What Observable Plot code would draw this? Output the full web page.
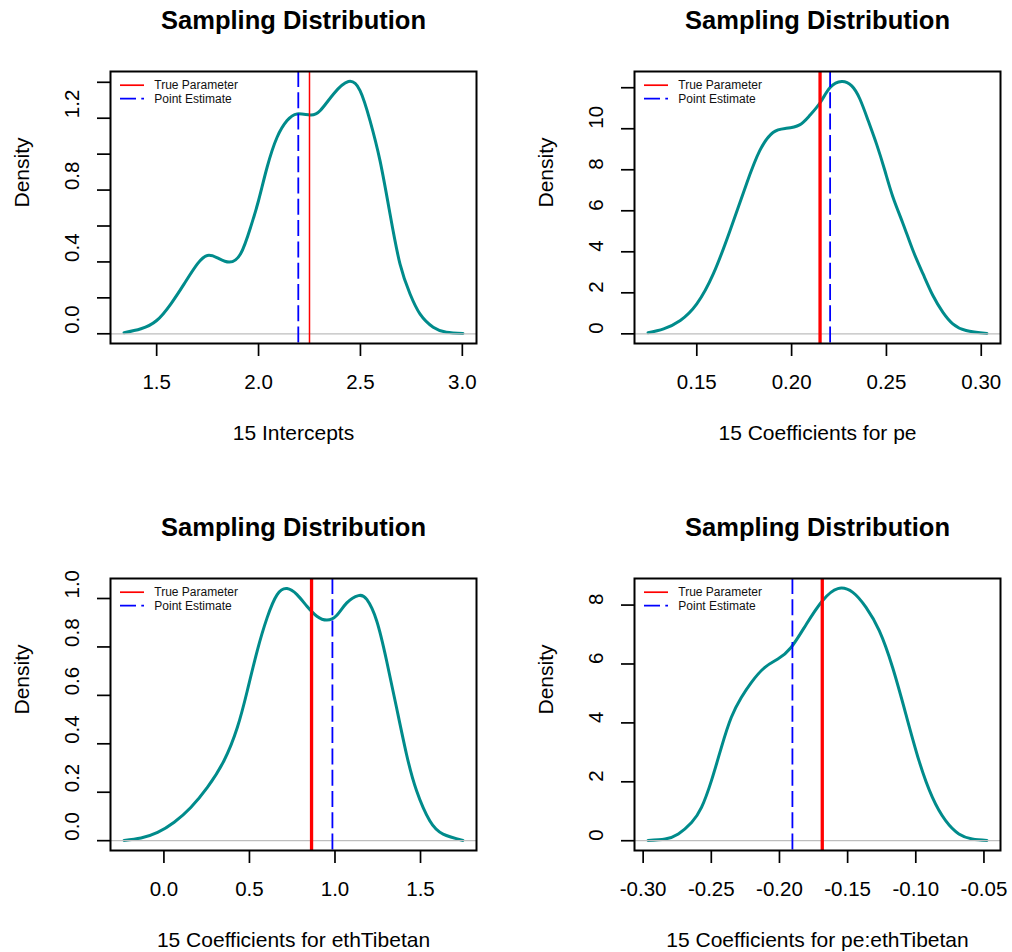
<!DOCTYPE html>
<html>
<head>
<meta charset="utf-8">
<script src="https://cdn.jsdelivr.net/npm/d3@7"></script>
<script src="https://cdn.jsdelivr.net/npm/@observablehq/plot@0.6"></script>
<style>
  html, body { margin: 0; padding: 0; background: #fff; }
  #chart { position: relative; width: 1012px; height: 952px; overflow: hidden; background: #fff;
           font-family: "Liberation Sans", Arial, Helvetica, sans-serif; }
  #chart svg { position: absolute; }
</style>
</head>
<body>
<div id="chart"></div>
<script>
// ---------- data ----------
const chartTitle = "Sampling Distribution";
const yTitle = "Density";
const legendLabels = ["True Parameter", "Point Estimate"];

// Panel 1: intercepts
const p1XTitle = "15 Intercepts";
const p1X = [1.340, 1.423, 1.500, 1.570, 1.635, 1.700, 1.749, 1.798, 1.855, 1.912, 1.961, 2.000, 2.042, 2.091, 2.140, 2.189, 2.254, 2.303, 2.368, 2.441, 2.498, 2.547, 2.596, 2.645, 2.694, 2.743, 2.792, 2.857, 2.922, 3.003];
const p1Y = [0.006, 0.028, 0.074, 0.167, 0.278, 0.389, 0.436, 0.423, 0.399, 0.445, 0.593, 0.742, 0.927, 1.094, 1.187, 1.224, 1.218, 1.243, 1.335, 1.404, 1.354, 1.187, 0.964, 0.668, 0.389, 0.223, 0.111, 0.037, 0.009, 0.002];
const p1Truth = 2.25;
const p1Estimate = 2.195;
const p1XTicks = [1.5, 2.0, 2.5, 3.0];
const p1XTickLabels = ["1.5", "2.0", "2.5", "3.0"];
const p1YTicks = [0, 0.2, 0.4, 0.6, 0.8, 1.0, 1.2, 1.4];
const p1YLabelTicks = [0, 0.4, 0.8, 1.2];
const p1YTickLabels = ["0.0", "0.4", "0.8", "1.2"];

// Panel 2: coefficients for pe
const p2XTitle = "15 Coefficients for pe";
const p2X = [0.1243, 0.1325, 0.1413, 0.1500, 0.1587, 0.1675, 0.1762, 0.1832, 0.1902, 0.1972, 0.2042, 0.2094, 0.2151, 0.2203, 0.2264, 0.2317, 0.2360, 0.2404, 0.2448, 0.2492, 0.2535, 0.2588, 0.2640, 0.2693, 0.2745, 0.2798, 0.2850, 0.2920, 0.3030];
const p2Y = [0.05, 0.24, 0.65, 1.46, 2.92, 5.03, 7.31, 8.93, 9.82, 10.02, 10.19, 10.63, 11.28, 12.01, 12.30, 12.09, 11.45, 10.39, 9.25, 7.95, 6.65, 5.36, 4.06, 2.92, 1.87, 1.05, 0.49, 0.16, 0.02];
const p2Truth = 0.215;
const p2Estimate = 0.2203;
const p2XTicks = [0.15, 0.20, 0.25, 0.30];
const p2XTickLabels = ["0.15", "0.20", "0.25", "0.30"];
const p2YTicks = [0, 2, 4, 6, 8, 10, 12];
const p2YLabelTicks = [0, 2, 4, 6, 8, 10];
const p2YTickLabels = ["0", "2", "4", "6", "8", "10"];

// Panel 3: coefficients for ethTibetan
const p3XTitle = "15 Coefficients for ethTibetan";
const p3X = [-0.233, -0.134, -0.037, 0.060, 0.157, 0.254, 0.351, 0.429, 0.487, 0.545, 0.603, 0.662, 0.720, 0.778, 0.836, 0.894, 0.953, 1.011, 1.069, 1.137, 1.186, 1.244, 1.302, 1.360, 1.418, 1.477, 1.554, 1.632, 1.748];
const p3Y = [0.001, 0.011, 0.034, 0.076, 0.137, 0.220, 0.330, 0.467, 0.618, 0.783, 0.920, 1.016, 1.041, 1.016, 0.968, 0.927, 0.911, 0.931, 0.982, 1.012, 0.996, 0.907, 0.742, 0.549, 0.357, 0.206, 0.082, 0.027, 0.001];
const p3Truth = 0.863;
const p3Estimate = 0.985;
const p3XTicks = [0.0, 0.5, 1.0, 1.5];
const p3XTickLabels = ["0.0", "0.5", "1.0", "1.5"];
const p3YTicks = [0, 0.2, 0.4, 0.6, 0.8, 1.0];
const p3YLabelTicks = [0, 0.2, 0.4, 0.6, 0.8, 1.0];
const p3YTickLabels = ["0.0", "0.2", "0.4", "0.6", "0.8", "1.0"];

// Panel 4: coefficients for pe:ethTibetan
const p4XTitle = "15 Coefficients for pe:ethTibetan";
const p4X = [-0.2964, -0.2839, -0.2742, -0.2645, -0.2572, -0.2499, -0.2426, -0.2353, -0.2280, -0.2207, -0.2109, -0.2012, -0.1915, -0.1803, -0.1686, -0.1572, -0.1462, -0.1365, -0.1268, -0.1170, -0.1073, -0.0976, -0.0878, -0.0781, -0.0684, -0.0586, -0.0478];
const p4Y = [0.01, 0.06, 0.23, 0.62, 1.13, 2.04, 3.17, 4.19, 4.86, 5.37, 5.88, 6.17, 6.56, 7.35, 8.14, 8.56, 8.43, 7.92, 7.13, 5.88, 4.30, 2.71, 1.47, 0.68, 0.23, 0.06, 0.01];
const p4Truth = -0.1686;
const p4Estimate = -0.1905;
const p4XTicks = [-0.30, -0.25, -0.20, -0.15, -0.10, -0.05];
const p4XTickLabels = ["-0.30", "-0.25", "-0.20", "-0.15", "-0.10", "-0.05"];
const p4YTicks = [0, 2, 4, 6, 8];
const p4YLabelTicks = [0, 2, 4, 6, 8];
const p4YTickLabels = ["0", "2", "4", "6", "8"];

// ---------- panel configuration ----------
const panels = [
  {x: p1X, y: p1Y, truth: p1Truth, estimate: p1Estimate, xTicks: p1XTicks, xTickLabels: p1XTickLabels, yTicks: p1YTicks, yLabelTicks: p1YLabelTicks, yTickLabels: p1YTickLabels, xTitle: p1XTitle, redWidth: 1.5},
  {x: p2X, y: p2Y, truth: p2Truth, estimate: p2Estimate, xTicks: p2XTicks, xTickLabels: p2XTickLabels, yTicks: p2YTicks, yLabelTicks: p2YLabelTicks, yTickLabels: p2YTickLabels, xTitle: p2XTitle, redWidth: 3.3},
  {x: p3X, y: p3Y, truth: p3Truth, estimate: p3Estimate, xTicks: p3XTicks, xTickLabels: p3XTickLabels, yTicks: p3YTicks, yLabelTicks: p3YLabelTicks, yTickLabels: p3YTickLabels, xTitle: p3XTitle, redWidth: 3.3},
  {x: p4X, y: p4Y, truth: p4Truth, estimate: p4Estimate, xTicks: p4XTicks, xTickLabels: p4XTickLabels, yTicks: p4YTicks, yLabelTicks: p4YLabelTicks, yTickLabels: p4YTickLabels, xTitle: p4XTitle, redWidth: 3.3}
];

const FONT = '"Liberation Sans", Arial, Helvetica, sans-serif';
const CURVE = "#008B8B";
const DASH = "16,5.3";
const W = 488, H = 445, ML = 110, MR = 12, MT = 71, MB = 102;
const COL_STEP = 524, ROW_STEP = 506.7;

// R's default axis range: data range extended by 4% on each side
function rRange(values) {
  const [a, b] = d3.extent(values);
  const pad = 0.04 * (b - a);
  return [a - pad, b + pad];
}

function legendMark(index, scales, values, dimensions) {
  const L = dimensions.marginLeft, T = dimensions.marginTop;
  const g = d3.create("svg:g");
  const styles = [{color: "red", dash: null}, {color: "blue", dash: DASH}];
  legendLabels.forEach((label, i) => {
    const yy = T + 14.2 + i * 13.5;
    const line = g.append("line")
      .attr("x1", L + 10).attr("x2", L + 34)
      .attr("y1", yy).attr("y2", yy)
      .attr("stroke", styles[i].color).attr("stroke-width", 1.7);
    if (styles[i].dash) line.attr("stroke-dasharray", styles[i].dash);
    g.append("text")
      .attr("x", L + 44.3).attr("y", yy).attr("dy", "0.35em")
      .attr("text-anchor", "start")
      .attr("font-size", 12).attr("font-family", FONT).attr("fill", "#111")
      .text(label);
  });
  return g.node();
}

const chart = document.getElementById("chart");

panels.forEach((p, i) => {
  const col = i % 2, row = Math.floor(i / 2);
  const pts = p.x.map((x, j) => ({x, y: p.y[j]}));
  const svg = Plot.plot({
    width: W, height: H,
    marginLeft: ML, marginRight: MR, marginTop: MT, marginBottom: MB,
    x: {domain: rRange(p.x)},
    y: {domain: rRange(p.y)},
    style: {fontFamily: FONT, background: "transparent", color: "black", overflow: "visible"},
    marks: [
      Plot.line(pts, {x: "x", y: "y", stroke: CURVE, strokeWidth: 3, curve: "natural"}),
      Plot.ruleY([0], {stroke: "#BEBEBE", strokeWidth: 1.2}),
      Plot.ruleX([p.truth], {stroke: "red", strokeWidth: p.redWidth}),
      Plot.ruleX([p.estimate], {stroke: "blue", strokeWidth: 1.8, strokeDasharray: DASH}),
      Plot.frame({stroke: "black", strokeWidth: 2}),
      Plot.axisX(p.xTicks, {tickSize: 13, fill: "none", stroke: "black", strokeWidth: 1.7, label: null}),
      Plot.axisY(p.yTicks, {tickSize: 13, fill: "none", stroke: "black", strokeWidth: 1.7, label: null}),
      Plot.text(p.xTicks, {x: (d) => d, text: (d, j) => p.xTickLabels[j], frameAnchor: "bottom", lineAnchor: "middle", dy: 38.5, fontSize: 20.5, fill: "black"}),
      Plot.text(p.yLabelTicks, {y: (d) => d, text: (d, j) => p.yTickLabels[j], frameAnchor: "left", lineAnchor: "middle", dx: -38.3, rotate: -90, fontSize: 20.5, fill: "black"}),
      Plot.text([yTitle], {text: (d) => d, frameAnchor: "left", lineAnchor: "middle", dx: -88.3, rotate: -90, fontSize: 21, fill: "black"}),
      Plot.text([p.xTitle], {text: (d) => d, frameAnchor: "bottom", lineAnchor: "middle", dy: 90, fontSize: 21, fill: "black"}),
      Plot.text([chartTitle], {text: (d) => d, frameAnchor: "top", lineAnchor: "middle", dy: -51, fontSize: 25.5, fontWeight: "bold", fill: "black"}),
      legendMark
    ]
  });
  svg.style.left = (col * COL_STEP) + "px";
  svg.style.top = (row * ROW_STEP) + "px";
  chart.appendChild(svg);
});
</script>
</body>
</html>
